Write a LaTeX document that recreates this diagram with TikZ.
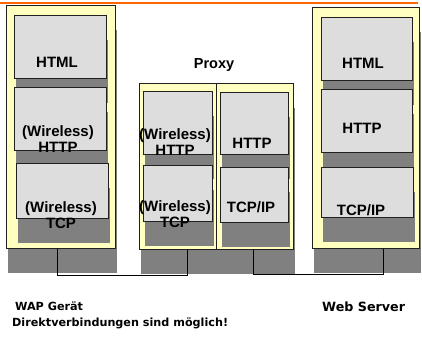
\documentclass[tikz,border=0pt]{standalone}
\usepackage{fontspec}
\setmainfont{Liberation Sans}
\newfontfamily\verd{DejaVu Sans}
\usetikzlibrary{shadows}
\definecolor{yel}{HTML}{FFFFC0}
\definecolor{lgray}{HTML}{DDDDDD}
\definecolor{shgray}{HTML}{808080}
\definecolor{topline}{HTML}{FF6600}
\definecolor{edge}{HTML}{202020}
\begin{document}
\begin{tikzpicture}[x=1pt,y=-1pt,
  stack/.style={drop shadow={shadow xshift=2pt,shadow yshift=-25pt,fill=shgray,draw=none,opacity=1}},
  outerbox/.style={stack,draw=edge,fill=yel,line width=0.8pt,anchor=north west,inner sep=0pt},
  innerbox/.style={stack,draw=edge,fill=lgray,line width=0.8pt,anchor=north west,inner sep=0pt},
  sz/.style args={#1x#2}{minimum width=#1pt,minimum height=#2pt},
  lbl/.style={font=\fontsize{15}{16}\selectfont\bfseries,align=center,inner sep=0pt},
  bottomtext/.style={font=\verd\bfseries\fontsize{11.2}{13}\selectfont,anchor=base west,inner sep=0pt},
  link/.style={draw=black,line width=0.8pt}]
\useasboundingbox (0,0) rectangle (422,339);
\fill[white] (0,0) rectangle (422,339);
\coordinate (tl) at (0,3);
\coordinate (tr) at (418,3);
\draw[topline,line width=2pt] (tl) -- (tr);
% WAP device
\node[outerbox,sz=109x243] (wap) at (6,5) {};
\node[innerbox,sz=92x63] (wh) at (14,15) {};
\node[innerbox,sz=92x63] (whttp) at (14,87) {};
\node[innerbox,sz=92x55] (wtcp) at (16,163) {};
% Proxy
\node[outerbox,sz=77x166] (pxl) at (139,83) {};
\node[outerbox,sz=77x166] (pxr) at (216,83) {};
\node[innerbox,sz=69x63] (phttpl) at (143,91) {};
\node[innerbox,sz=69x56] (ptcpl) at (143,165) {};
\node[innerbox,sz=68x62] (phttpr) at (220,92) {};
\node[innerbox,sz=68x55] (ptcpr) at (220,167) {};
% Web server
\node[outerbox,sz=107x241] (ws) at (312,7) {};
\node[innerbox,sz=91x63] (sh) at (321,17) {};
\node[innerbox,sz=91x63] (shttp) at (321,89) {};
\node[innerbox,sz=92x50] (stcp) at (321,167) {};
% connectors
\coordinate (j1) at (57,275);
\coordinate (j2) at (187,275);
\coordinate (j3) at (253,274);
\coordinate (j4) at (383,274);
\draw[link] (wap.south -| j1) -- (j1) -- (j2) -- (pxl.south -| j2);
\draw[link] (pxr.south -| j3) -- (j3) -- (j4) -- (ws.south -| j4);
% labels
\node[lbl] (t1) at (57,62) {HTML};
\node[lbl] (t2) at (58,139) {(Wireless)\\HTTP};
\node[lbl] (t3) at (61,215) {(Wireless)\\TCP};
\node[lbl,font=\fontsize{14.5}{16}\selectfont\bfseries] (t4) at (214,65) {Proxy};
\node[lbl] (t5) at (175,142.5) {(Wireless)\\HTTP};
\node[lbl] (t6) at (175,214.5) {(Wireless)\\TCP};
\node[lbl] (t7) at (252,143) {HTTP};
\node[lbl] (t8) at (251,207) {TCP/IP};
\node[lbl] (t9) at (363,63) {HTML};
\node[lbl] (t10) at (362,128) {HTTP};
\node[lbl] (t11) at (361,210) {TCP/IP};
\node[bottomtext] (c1) at (15,310.5) {WAP Gerät};
\node[bottomtext,font=\verd\bfseries\fontsize{12.7}{14}\selectfont] (c2) at (322,311) {Web Server};
\node[bottomtext] (c3) at (12,326) {Direktverbindungen sind möglich!};
\end{tikzpicture}
\end{document}
